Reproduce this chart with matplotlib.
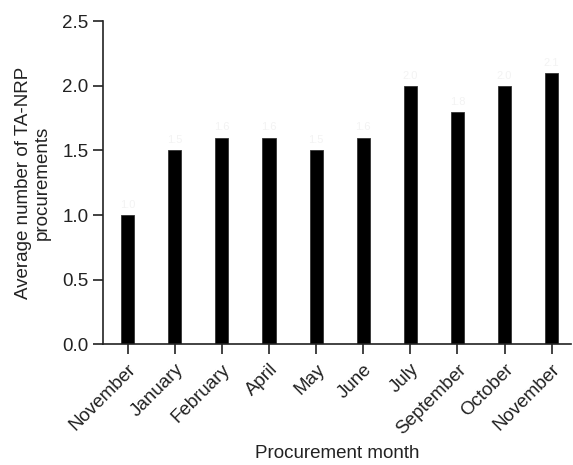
import matplotlib.pyplot as plt
import numpy as np

plt.rcParams['font.family'] = ['Liberation Sans', 'DejaVu Sans']

months = ['November', 'January', 'February', 'April', 'May', 'June',
          'July', 'September', 'October', 'November']
avg_procurements = [1.0, 1.5, 1.6, 1.6, 1.5, 1.6, 2.0, 1.8, 2.0, 2.1]

fig = plt.figure(figsize=(5.73, 4.65), dpi=100)
ax = fig.add_axes([0.18, 0.2596, 0.8165, 0.6946])

x = np.arange(len(months))
ax.bar(x, avg_procurements, width=0.28, color='black', edgecolor='#333333', linewidth=0.6)

# faint value labels above each bar
for xi, v in zip(x, avg_procurements):
    ax.text(xi, v + 0.04, f'{v:.1f}', ha='center', va='bottom', fontsize=8, color='#f3f3f3')

ax.set_xlim(-0.52, 9.41)
ax.set_ylim(0, 2.5)
ax.set_yticks([0.0, 0.5, 1.0, 1.5, 2.0, 2.5])
ax.set_yticklabels(['0.0', '0.5', '1.0', '1.5', '2.0', '2.5'])
ax.set_xticks(x)
ax.set_xticklabels(months, rotation=45, ha='right', rotation_mode='anchor', fontsize=14)

for side in ['top', 'right']:
    ax.spines[side].set_visible(False)
for side in ['left', 'bottom']:
    ax.spines[side].set_linewidth(1.2)
    ax.spines[side].set_color('#222222')

ax.tick_params(axis='both', direction='out', length=7, width=1.2, color='#222222',
               labelsize=13.5, labelcolor='#222222')
ax.tick_params(axis='x', pad=5)

ax.set_ylabel('Average number of TA-NRP\nprocurements', fontsize=13.5, color='#222222', labelpad=8)
ax.set_xlabel('Procurement month', fontsize=13.5, color='#222222', labelpad=5)

plt.savefig('out.png', dpi=100)
